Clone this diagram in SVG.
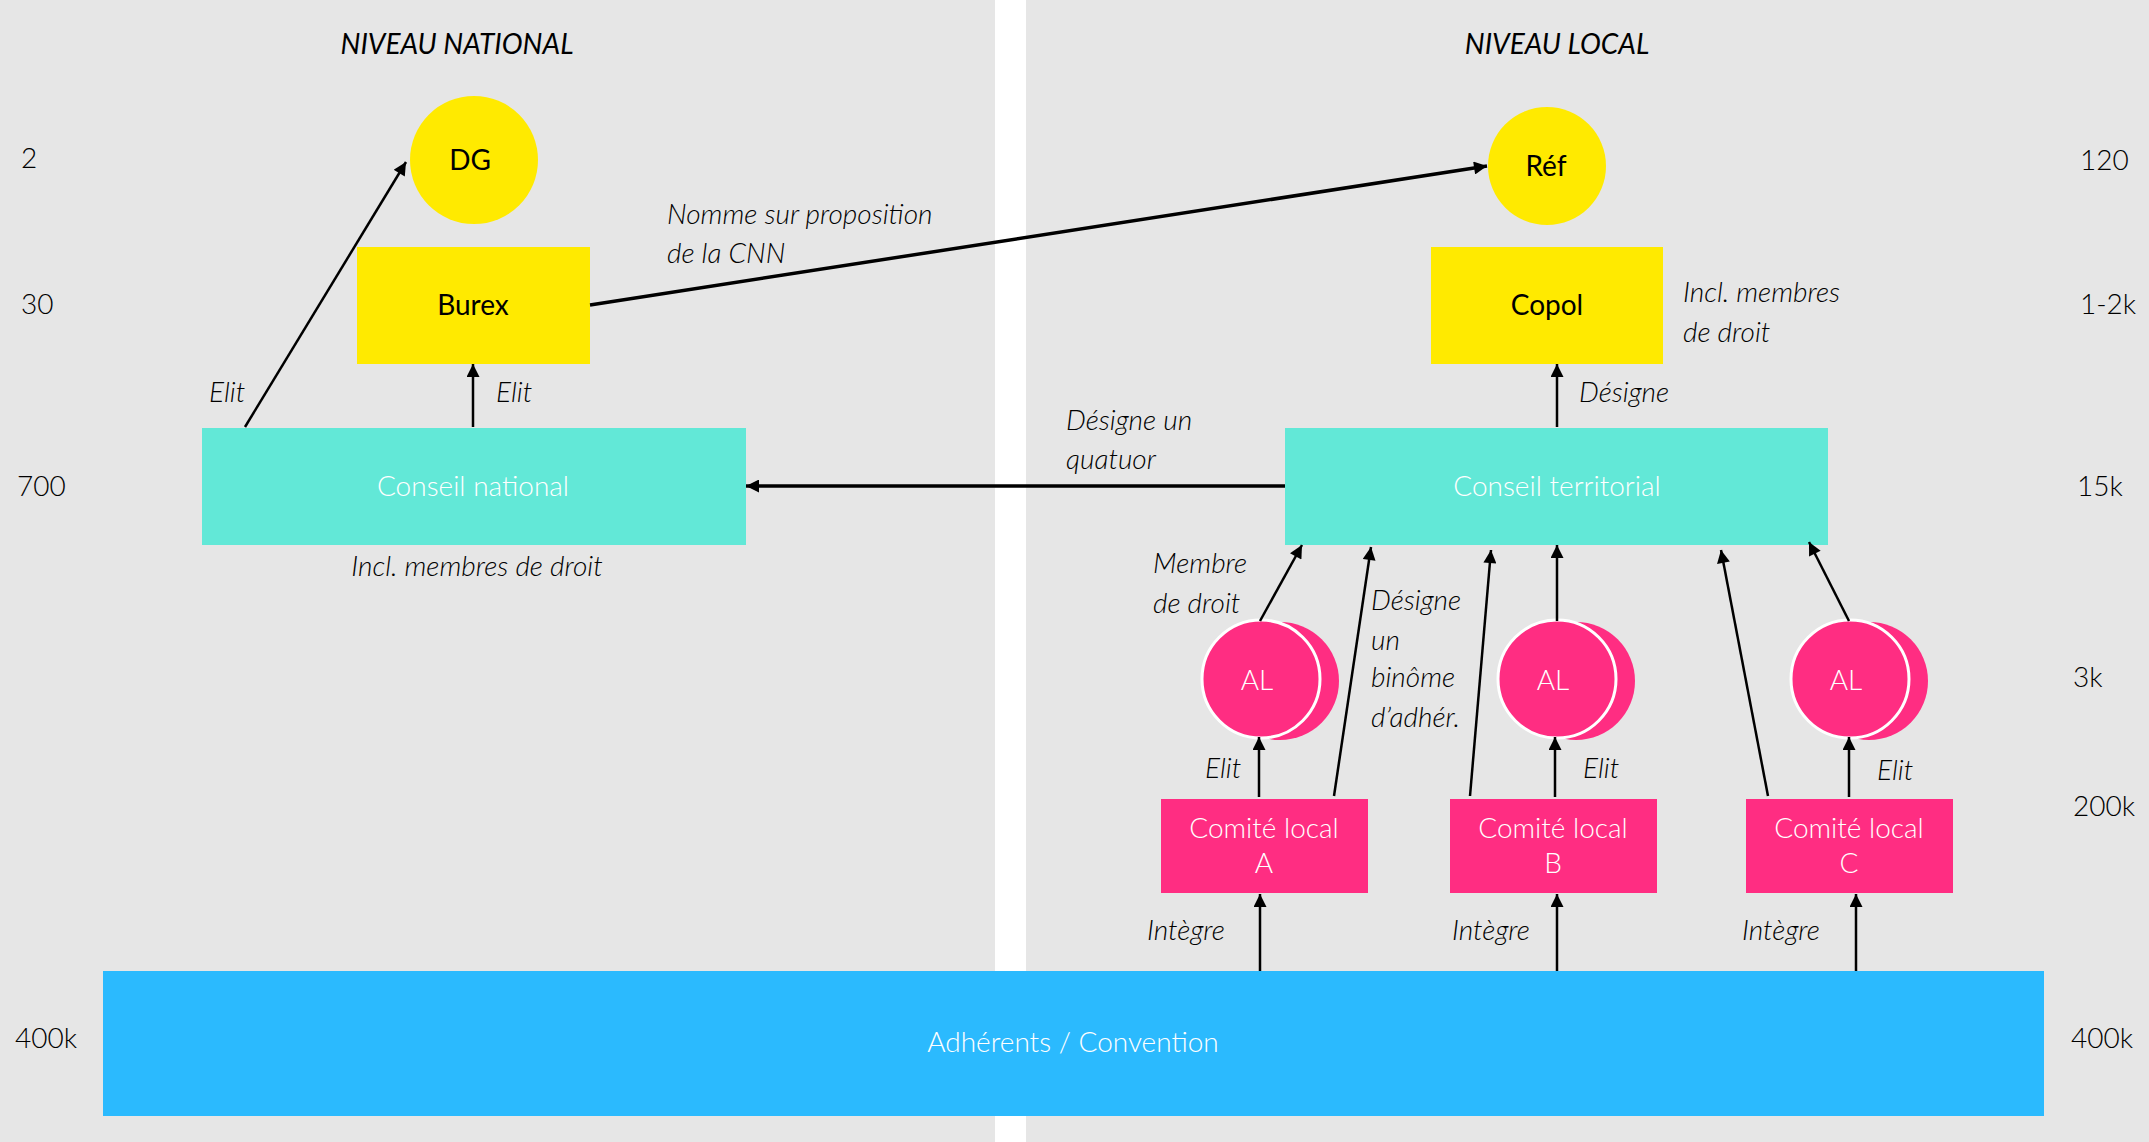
<svg xmlns="http://www.w3.org/2000/svg" width="2149" height="1142" viewBox="0 0 2149 1142">
<defs>
<style>
.t{font-family:Lato,"Liberation Sans",sans-serif;font-weight:300;font-size:28px;fill:#000}
.i{font-style:italic;fill:#000}
.h{font-weight:400}
.w{fill:#fff}
.b{font-weight:400;fill:#000}
.m{text-anchor:middle}
.c{stroke:#000;stroke-width:2.5;fill:none;marker-end:url(#ah)}
.c2{stroke:#000;stroke-width:3.5;fill:none;marker-end:url(#ah)}
.yel{fill:#FFEA00}
.tq{fill:#62E8D7}
.pk{fill:#FF2D82}
</style>
<marker id="ah" viewBox="0 0 10 10" refX="10" refY="5" markerWidth="15" markerHeight="13" markerUnits="userSpaceOnUse" orient="auto">
<path d="M0,0 L10,5 L0,10 z" fill="#000"/>
</marker>
</defs>
<rect x="0" y="0" width="2149" height="1142" fill="#fff"/>
<rect x="0" y="0" width="995" height="1142" fill="#E6E6E6"/>
<rect x="1026" y="0" width="1123" height="1142" fill="#E6E6E6"/>

<g id="titles">
<text class="t i h m" x="457" y="54">NIVEAU NATIONAL</text>
<text class="t i h m" x="1557" y="54">NIVEAU LOCAL</text>
</g>

<g id="scale-left">
<text class="t" x="21" y="168">2</text>
<text class="t" x="21" y="314">30</text>
<text class="t" x="17" y="496">700</text>
<text class="t" x="15" y="1048">400k</text>
</g>
<g id="scale-right">
<text class="t" x="2080" y="170">120</text>
<text class="t" x="2080" y="314">1-2k</text>
<text class="t" x="2077" y="496">15k</text>
<text class="t" x="2073" y="687">3k</text>
<text class="t" x="2073" y="816">200k</text>
<text class="t" x="2071" y="1048">400k</text>
</g>

<g id="adherents">
<rect x="103" y="971" width="1941" height="145" fill="#2BBAFE"/>
<text class="t w m" x="1073" y="1052">Adhérents / Convention</text>
</g>

<g id="dg">
<circle cx="474" cy="160" r="64" class="yel"/>
<text class="t b m" x="470" y="170">DG</text>
</g>
<g id="burex">
<rect x="357" y="247" width="233" height="117" class="yel"/>
<text class="t b m" x="473" y="315">Burex</text>
</g>
<g id="conseil-national">
<rect x="202" y="428" width="544" height="117" class="tq"/>
<text class="t w m" x="473" y="496">Conseil national</text>
</g>

<g id="ref">
<circle cx="1547" cy="166" r="59" class="yel"/>
<text class="t b m" x="1546" y="176">Réf</text>
</g>
<g id="copol">
<rect x="1431" y="247" width="232" height="117" class="yel"/>
<text class="t b m" x="1547" y="315">Copol</text>
</g>
<g id="conseil-territorial">
<rect x="1285" y="428" width="543" height="117" class="tq"/>
<text class="t w m" x="1557" y="496">Conseil territorial</text>
</g>

<g id="al-a">
<circle cx="1280" cy="681" r="59" class="pk"/>
<circle cx="1261" cy="679" r="59" class="pk" stroke="#fff" stroke-width="3"/>
<text class="t w m" x="1257" y="690">AL</text>
</g>
<g id="al-b">
<circle cx="1576" cy="681" r="59" class="pk"/>
<circle cx="1557" cy="679" r="59" class="pk" stroke="#fff" stroke-width="3"/>
<text class="t w m" x="1553" y="690">AL</text>
</g>
<g id="al-c">
<circle cx="1869" cy="681" r="59" class="pk"/>
<circle cx="1850" cy="679" r="59" class="pk" stroke="#fff" stroke-width="3"/>
<text class="t w m" x="1846" y="690">AL</text>
</g>

<g id="cl-a">
<rect x="1161" y="799" width="207" height="94" class="pk"/>
<text class="t w m" x="1264" y="838">Comité local</text>
<text class="t w m" x="1264" y="873">A</text>
</g>
<g id="cl-b">
<rect x="1450" y="799" width="207" height="94" class="pk"/>
<text class="t w m" x="1553" y="838">Comité local</text>
<text class="t w m" x="1553" y="873">B</text>
</g>
<g id="cl-c">
<rect x="1746" y="799" width="207" height="94" class="pk"/>
<text class="t w m" x="1849" y="838">Comité local</text>
<text class="t w m" x="1849" y="873">C</text>
</g>

<g id="connectors">
<path class="c" d="M245,427 L406,162"/>
<path class="c" d="M473,427 L473,364"/>
<path class="c2" d="M590,305 L1487,166"/>
<path class="c2" d="M1285,486 L746,486"/>
<path class="c" d="M1557,427 L1557,364"/>
<path class="c" d="M1260,621 L1302,545"/>
<path class="c" d="M1334,796 L1371,547"/>
<path class="c" d="M1470,796 L1491,550"/>
<path class="c" d="M1557,621 L1557,545"/>
<path class="c" d="M1768,796 L1721,550"/>
<path class="c" d="M1849,621 L1809,542"/>
<path class="c" d="M1259,797 L1259,737"/>
<path class="c" d="M1555,797 L1555,737"/>
<path class="c" d="M1849,797 L1849,737"/>
<path class="c" d="M1260,971 L1260,894"/>
<path class="c" d="M1557,971 L1557,894"/>
<path class="c" d="M1856,971 L1856,894"/>
</g>

<g id="labels">
<text class="t i" x="209" y="402">Elit</text>
<text class="t i" x="496" y="402">Elit</text>
<text class="t i" x="667" y="224">Nomme sur proposition</text>
<text class="t i" x="667" y="263">de la CNN</text>
<text class="t i m" x="477" y="576">Incl. membres de droit</text>
<text class="t i" x="1683" y="302">Incl. membres</text>
<text class="t i" x="1683" y="342">de droit</text>
<text class="t i" x="1579" y="402">Désigne</text>
<text class="t i" x="1066" y="430">Désigne un</text>
<text class="t i" x="1066" y="469">quatuor</text>
<text class="t i" x="1153" y="573">Membre</text>
<text class="t i" x="1153" y="613">de droit</text>
<text class="t i" x="1371" y="610">Désigne</text>
<text class="t i" x="1371" y="650">un</text>
<text class="t i" x="1371" y="687">binôme</text>
<text class="t i" x="1371" y="727">d’adhér.</text>
<text class="t i" x="1205" y="778">Elit</text>
<text class="t i" x="1583" y="778">Elit</text>
<text class="t i" x="1877" y="780">Elit</text>
<text class="t i" x="1147" y="940">Intègre</text>
<text class="t i" x="1452" y="940">Intègre</text>
<text class="t i" x="1742" y="940">Intègre</text>
</g>
</svg>
